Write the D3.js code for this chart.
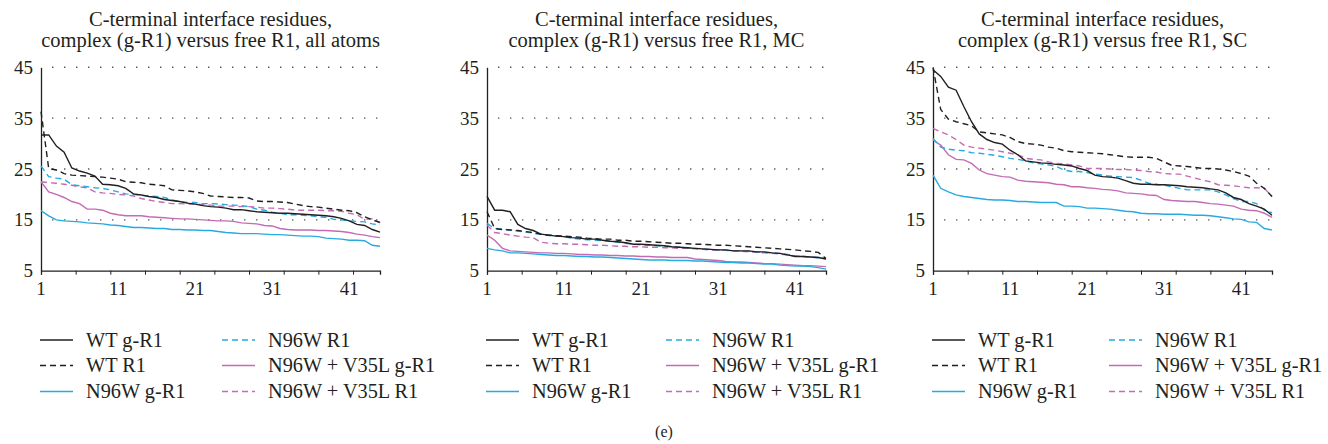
<!DOCTYPE html>
<html>
<head>
<meta charset="utf-8">
<script src="https://cdn.jsdelivr.net/npm/d3@7"></script>
<style>
  body { margin: 0; background: #fff; }
  svg text { font-family: "Liberation Serif", "DejaVu Serif", serif; fill: #231f20; }
</style>
</head>
<body>
<svg id="chart" width="1328" height="444"></svg>
<script>

var X_LABELS = [1, 11, 21, 31, 41];
var Y_TICKS = [5, 15, 25, 35, 45];
var GRID_VALUES = [15, 25, 35, 45];

var SERIES = ["WT g-R1", "WT R1", "N96W g-R1", "N96W R1", "N96W + V35L g-R1", "N96W + V35L R1"];

var TITLES = [
    ["C-terminal interface residues,", "complex (g-R1) versus free R1, all atoms"],
    ["C-terminal interface residues,", "complex (g-R1) versus free R1, MC"],
    ["C-terminal interface residues,", "complex (g-R1) versus free R1, SC"]
];

// all atoms
var ALL_WT_G = [31.7,31.7,29.5,28.3,25.2,24.6,24.2,23.6,22.0,21.9,21.7,21.2,20.1,19.9,19.6,19.4,19.0,18.8,18.6,18.3,18.1,17.8,17.6,17.5,17.3,17.0,17.0,16.8,16.6,16.5,16.4,16.3,16.3,16.2,16.1,16.0,15.9,15.8,15.6,15.3,14.8,14.1,13.9,13.1,12.6];
var ALL_WT_R = [36.3,25.1,24.8,24.1,23.8,23.7,23.6,23.5,23.4,23.2,23.0,22.5,22.4,22.3,22.0,21.9,21.7,20.9,20.8,20.7,20.5,20.2,19.7,19.6,19.5,19.4,19.4,19.3,18.7,18.6,18.6,18.5,18.4,18.1,17.8,17.6,17.5,17.3,17.1,16.9,16.8,16.4,15.6,15.0,14.5];
var ALL_N96W_G = [16.8,15.8,15.0,14.8,14.7,14.6,14.4,14.3,14.2,14.0,13.9,13.7,13.5,13.5,13.4,13.3,13.3,13.1,13.1,13.0,13.0,12.9,12.9,12.7,12.5,12.4,12.3,12.3,12.3,12.2,12.1,12.1,12.0,11.9,11.8,11.8,11.7,11.4,11.3,11.2,11.0,11.0,10.9,10.0,9.8];
var ALL_N96W_R = [25.6,23.5,23.2,23.0,21.9,21.7,21.5,21.3,21.2,20.9,20.5,20.1,20.0,19.8,19.7,19.6,19.4,18.9,18.6,18.4,18.4,18.2,18.2,18.1,18.0,17.9,17.8,17.6,17.1,16.9,16.5,16.3,16.0,16.0,15.9,15.8,15.6,15.5,15.1,15.0,14.8,14.7,14.6,14.2,14.0];
var ALL_V35L_G = [22.5,20.5,20.0,19.4,18.6,18.2,17.1,17.1,16.9,16.3,16.0,15.8,15.8,15.8,15.6,15.5,15.4,15.3,15.2,15.2,15.1,15.0,14.9,14.8,14.8,14.7,14.4,14.3,14.2,13.9,13.8,13.3,13.1,13.0,13.0,13.0,12.9,12.9,12.8,12.7,12.5,12.2,12.0,11.7,11.5];
var ALL_V35L_R = [22.5,22.3,22.2,22.0,21.8,21.5,21.3,20.5,20.3,20.2,20.0,19.9,19.7,19.2,18.9,18.6,18.4,18.2,18.2,18.1,18.1,18.0,17.9,17.7,17.7,17.7,17.6,17.6,17.5,17.3,17.3,17.2,17.1,16.9,16.9,16.9,16.9,16.8,16.8,16.7,16.3,16.0,15.1,15.2,14.4];

// main chain
var MC_WT_G = [19.6,16.9,16.9,16.6,14.1,13.3,12.9,12.2,12.0,11.8,11.7,11.5,11.4,11.2,11.2,11.0,10.8,10.7,10.5,10.2,10.2,10.1,10.0,9.9,9.7,9.6,9.5,9.4,9.3,9.2,9.1,9.1,8.9,8.9,8.9,8.7,8.7,8.5,8.4,8.1,7.8,7.8,7.7,7.6,7.3];
var MC_WT_R = [16.6,13.3,13.1,13.0,12.9,12.7,12.5,12.2,12.0,11.9,11.8,11.7,11.6,11.4,11.3,11.2,11.2,11.0,11.0,10.8,10.8,10.7,10.6,10.5,10.4,10.4,10.3,10.2,10.2,10.1,10.0,10.0,9.9,9.8,9.7,9.6,9.5,9.4,9.3,9.2,9.1,8.9,8.8,8.6,7.4];
var MC_N96W_G = [9.4,9.1,8.9,8.5,8.5,8.4,8.3,8.2,8.1,8.0,8.0,7.9,7.8,7.8,7.7,7.7,7.6,7.5,7.4,7.3,7.2,7.1,7.1,7.1,7.0,7.0,7.0,6.9,6.9,6.8,6.7,6.6,6.6,6.5,6.5,6.4,6.3,6.3,6.1,6.0,5.9,5.9,5.8,5.6,5.3];
var MC_N96W_R = [14.3,13.3,13.2,13.0,12.8,12.6,12.4,12.1,11.9,11.8,11.7,11.4,11.2,11.1,11.0,10.9,10.8,10.6,10.4,10.2,10.1,10.0,9.9,9.8,9.7,9.6,9.5,9.4,9.3,9.2,9.1,9.0,8.9,8.9,8.8,8.7,8.6,8.5,8.4,8.2,7.9,7.8,7.7,7.6,7.4];
var MC_V35L_G = [12.0,11.0,9.4,8.9,8.8,8.7,8.6,8.5,8.5,8.4,8.4,8.3,8.2,8.2,8.1,8.1,8.0,8.0,7.9,7.9,7.8,7.8,7.7,7.7,7.6,7.6,7.6,7.3,7.2,7.1,7.0,6.8,6.7,6.7,6.6,6.5,6.4,6.4,6.3,6.2,6.1,6.0,6.0,5.9,5.8];
var MC_V35L_R = [14.0,12.5,12.3,12.0,11.8,11.6,11.5,10.6,10.4,10.3,10.3,10.2,10.2,10.1,10.0,10.0,9.9,9.8,9.8,9.7,9.7,9.6,9.6,9.5,9.5,9.4,9.4,9.3,9.2,9.1,9.0,9.0,8.9,8.8,8.7,8.6,8.5,8.4,8.3,8.1,7.9,7.8,7.7,7.5,7.4];

// side chain
var SC_WT_G = [44.5,43.2,41.1,40.5,37.3,34.3,31.9,30.8,30.2,29.9,28.7,27.8,26.6,26.4,26.2,26.1,25.9,25.8,25.6,25.1,24.7,23.8,23.5,23.4,23.2,22.7,22.2,22.0,22.0,21.9,21.9,21.8,21.7,21.5,21.4,21.3,21.1,20.9,20.3,19.4,19.0,18.2,17.7,17.1,15.9];
var SC_WT_R = [45.0,36.7,34.8,34.3,33.9,33.5,32.3,32.1,31.9,31.7,31.2,30.4,30.0,29.9,29.7,29.3,29.1,28.6,28.4,28.3,28.2,28.1,28.0,27.8,27.6,27.4,27.3,27.3,27.3,27.1,26.4,25.7,25.6,25.5,25.3,25.1,25.1,25.0,24.8,24.5,24.1,23.6,22.2,21.2,19.6];
var SC_N96W_G = [23.8,21.2,20.5,19.9,19.6,19.4,19.2,19.0,18.9,18.9,18.8,18.6,18.6,18.5,18.4,18.4,18.4,17.7,17.7,17.6,17.3,17.3,17.2,17.1,16.9,16.7,16.6,16.3,16.2,16.2,16.1,16.1,16.1,16.0,15.9,15.9,15.8,15.6,15.4,15.2,15.1,14.6,14.5,13.3,13.0];
var SC_N96W_R = [31.0,29.3,28.9,28.7,28.6,28.2,28.1,27.9,27.7,27.4,27.1,26.9,26.6,26.2,26.0,25.8,25.5,24.8,24.5,24.5,24.3,24.0,23.8,23.6,23.5,23.4,23.3,22.8,22.2,22.0,21.8,21.5,21.2,20.9,20.9,20.9,20.9,20.5,19.9,19.2,18.6,18.6,18.2,16.9,16.4];
var SC_V35L_G = [30.7,29.7,27.8,26.9,26.8,26.1,24.8,24.1,23.8,23.5,23.4,22.8,22.6,22.5,22.4,22.3,22.0,21.9,21.5,21.5,21.3,21.2,21.0,20.9,20.7,20.3,20.2,20.1,19.9,19.8,19.0,18.8,18.7,18.6,18.6,18.4,18.2,18.1,17.9,17.7,17.1,16.9,16.8,16.3,15.5];
var SC_V35L_R = [33.0,32.3,31.7,30.8,29.7,29.3,29.1,28.9,28.7,28.4,28.1,27.8,27.1,26.9,26.8,26.4,26.1,26.0,25.8,25.6,25.1,25.1,25.1,25.0,24.9,24.9,24.8,24.7,24.5,24.4,24.1,24.0,24.0,23.6,23.2,22.8,22.5,21.9,21.8,21.7,21.5,21.3,21.3,21.2,19.6];

var PANELS = [
    [ALL_WT_G, ALL_WT_R, ALL_N96W_G, ALL_N96W_R, ALL_V35L_G, ALL_V35L_R],
    [MC_WT_G, MC_WT_R, MC_N96W_G, MC_N96W_R, MC_V35L_G, MC_V35L_R],
    [SC_WT_G, SC_WT_R, SC_N96W_G, SC_N96W_R, SC_V35L_G, SC_V35L_R]
];

var BLACK = "#231f20", CYAN = "#27aae1", PINK = "#c46bb3";
var styles = [
    { color: BLACK, dash: null },
    { color: BLACK, dash: "6,4" },
    { color: CYAN, dash: null },
    { color: CYAN, dash: "6,4" },
    { color: PINK, dash: null },
    { color: PINK, dash: "6,4" }
];

var svg = d3.select("#chart");

var panelLeft = [41, 487, 933];
var legendCols = [[40, 222], [486, 666], [932, 1109]];
var plotW = 339;
var plotTop = 67.3, plotBottom = 270.7;

var make_panel = function (p) {
    var x0 = panelLeft[p];
    var x = d3.scaleLinear().domain([1, 45]).range([x0, x0 + plotW]);
    var y = d3.scaleLinear().domain([5, 45]).range([plotBottom, plotTop]);

    var g = svg.append("g");

    // title
    g.append("text")
        .attr("x", x0 + plotW / 2).attr("y", 26)
        .attr("text-anchor", "middle").attr("font-size", 20.5)
        .text(TITLES[p][0]);
    g.append("text")
        .attr("x", x0 + plotW / 2).attr("y", 47)
        .attr("text-anchor", "middle").attr("font-size", 20.5)
        .text(TITLES[p][1]);

    // dotted grid
    g.append("g").selectAll("line")
        .data(GRID_VALUES)
        .join("line")
        .attr("x1", x0 + 11).attr("x2", x0 + plotW)
        .attr("y1", d => y(d)).attr("y2", d => y(d))
        .attr("stroke", "#555").attr("stroke-width", 1.4)
        .attr("stroke-dasharray", "1.4,10.6")
        .attr("stroke-linecap", "butt");

    // y axis
    var yAxis = d3.axisLeft(y).tickValues(Y_TICKS).tickSize(0).tickPadding(8);
    g.append("g")
        .attr("transform", `translate(${x0},0)`)
        .call(yAxis)
        .call(g => g.selectAll("text").attr("font-size", 19).attr("font-family", "Liberation Serif").attr("fill", BLACK))
        .call(g => g.select(".domain").attr("stroke", BLACK).attr("stroke-width", 1.3));

    // x axis: marks every 4.5 units, labels every 10
    var tickMarks = d3.range(0, 10).map(i => 1 + 4.5 * i);
    g.append("g")
        .attr("transform", `translate(0,${plotBottom})`)
        .call(d3.axisBottom(x).tickValues(tickMarks).tickSize(4).tickFormat(""))
        .call(g => g.select(".domain").attr("stroke", BLACK).attr("stroke-width", 1.3))
        .call(g => g.selectAll(".tick line").attr("stroke", BLACK));

    g.append("g").selectAll("text")
        .data(X_LABELS)
        .join("text")
        .attr("x", d => x(d)).attr("y", plotBottom + 24)
        .attr("text-anchor", "middle").attr("font-size", 19)
        .text(d => d);

    // lines
    var line = d3.line()
        .x((d, i) => x(i + 1))
        .y(d => y(d));

    var order = [4, 2, 5, 3, 1, 0];
    order.forEach(function (s) {
        g.append("path")
            .datum(PANELS[p][s])
            .attr("fill", "none")
            .attr("stroke", styles[s].color)
            .attr("stroke-width", 1.4)
            .attr("stroke-dasharray", styles[s].dash)
            .attr("d", line);
    });

    // legend
    var rows = [340, 365.5, 391.5];
    SERIES.forEach(function (name, i) {
        var col = Math.floor(i / 3), row = i % 3;
        var lx = legendCols[p][col];
        g.append("line")
            .attr("x1", lx).attr("x2", lx + 33)
            .attr("y1", rows[row]).attr("y2", rows[row])
            .attr("stroke", styles[i].color).attr("stroke-width", 1.4)
            .attr("stroke-dasharray", styles[i].dash);
        g.append("text")
            .attr("x", lx + 46).attr("y", rows[row] + 6.5)
            .attr("font-size", 20.3)
            .text(name);
    });
};

[0, 1, 2].forEach(make_panel);

svg.append("text")
    .attr("x", 664).attr("y", 437)
    .attr("text-anchor", "middle").attr("font-size", 16)
    .text("(e)");

</script>
</body>
</html>
